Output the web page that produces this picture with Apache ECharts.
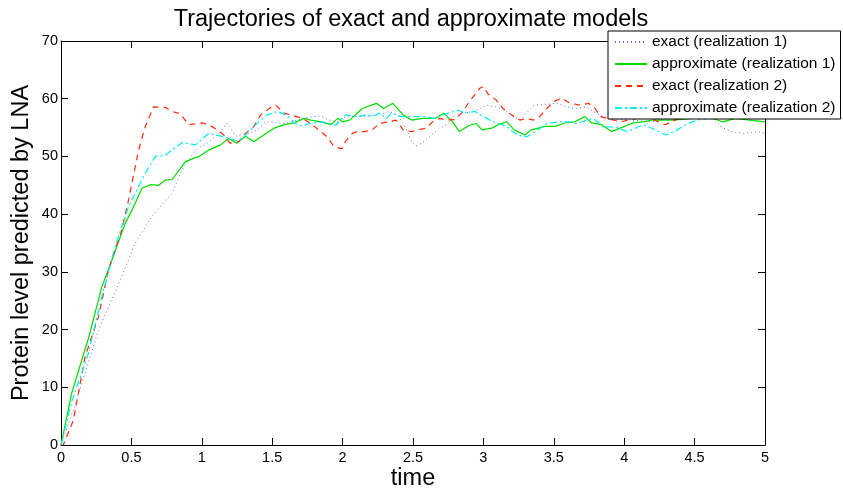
<!DOCTYPE html>
<html>
<head>
<meta charset="utf-8">
<script src="https://cdn.jsdelivr.net/npm/echarts@6/dist/echarts.min.js"></script>
<style>
html,body{margin:0;padding:0;background:#fff;}
#tuli{width:843px;height:488px;}
</style>
</head>
<body>
<div id="tuli"></div>
<script>
// exact (realization 1)
var exact1T = [0,0.089,0.266,0.432,0.527,0.646,0.789,0.86,0.955,1.05,1.12,1.18,1.24,1.288,1.335,1.395,1.454,1.5,1.573,1.645,1.715,1.787,1.846,1.905,1.965,2.02,2.167,2.25,2.33,2.39,2.45,2.49,2.52,2.56,2.594,2.64,2.69,2.737,2.785,2.856,2.93,2.98,3.02,3.09,3.165,3.215,3.26,3.307,3.355,3.426,3.52,3.59,3.66,3.73,3.78,3.85,3.95,4.05,4.2,4.4,4.55,4.64,4.68,4.76,4.85,4.95,5.0];
var exact1Y = [0,6.1,19.9,29.2,35,39.6,43.6,47.7,51.1,52.5,54,55.7,53.5,53.8,54,54.6,56,56,55.7,56,56.6,56.9,57,56.3,56,56.9,56.9,57.2,57.8,57.2,54.9,52.6,51.8,52.3,52.9,54,54.9,55.5,56.9,57.5,57.8,58.3,58.9,58.6,57.8,56.9,56.3,57.5,58.9,59,59.2,58.6,58.3,58.6,57.8,56.9,56.5,56.3,56,57,57.2,56.3,55.2,54.3,54,54.3,54];
// approximate (realization 1)
var approx1T = [0,0.076,0.195,0.29,0.361,0.456,0.527,0.575,0.634,0.694,0.741,0.789,0.884,0.979,1.05,1.133,1.19,1.25,1.31,1.37,1.44,1.513,1.585,1.656,1.727,1.775,1.846,1.917,1.965,2.0,2.05,2.14,2.24,2.29,2.357,2.43,2.49,2.57,2.66,2.72,2.78,2.83,2.9,2.95,2.99,3.06,3.105,3.165,3.22,3.295,3.34,3.44,3.51,3.58,3.65,3.72,3.77,3.84,3.91,3.98,4.06,4.13,4.2,4.34,4.48,4.6,4.7,4.79,4.89,5.0];
var approx1Y = [0,9,18.5,27.4,32,38.4,41.9,44.5,45.1,45,45.9,46,49.1,50,51.1,52,53.1,52.3,53.5,52.6,53.7,54.9,55.5,55.8,56.6,56.3,56,55.5,56.6,56,56.3,58.3,59.2,58.3,59.2,57.2,56.3,56.6,56.6,57.5,56,54.3,55.4,55.7,54.6,54.9,55.5,56,54.6,53.7,54.6,55.2,55.2,55.8,56,56.9,55.8,55.5,54.3,55,55.8,56,56.3,56.3,56.6,56.8,56,56.6,56.3,56];
// exact (realization 2)
var exact2T = [0,0.016,0.088,0.171,0.266,0.337,0.432,0.48,0.551,0.599,0.658,0.741,0.789,0.848,0.907,1.003,1.05,1.11,1.157,1.2,1.264,1.31,1.37,1.418,1.478,1.525,1.585,1.632,1.715,1.775,1.846,1.89,1.93,1.977,2.0,2.02,2.07,2.1,2.155,2.21,2.26,2.33,2.38,2.43,2.49,2.535,2.594,2.64,2.69,2.737,2.8,2.856,2.9,2.94,2.974,3.0,3.03,3.09,3.14,3.2,3.26,3.307,3.355,3.4,3.45,3.5,3.556,3.616,3.687,3.747,3.794,3.83,3.877,3.97,4.04,4.15,4.29,4.39,4.5,4.7,4.85,5.0];
var exact2Y = [0,0,4.3,15.3,22.2,30.3,37.3,42.5,51.1,55.2,58.6,58.5,57.8,57.4,55.5,55.8,55.5,54.6,53.7,52.3,52.6,54,55.2,57.2,58.3,58.9,57.5,57.2,56.6,55.7,54.3,53.4,52,51.4,51.4,52.6,54,54.3,54.3,54.6,55.7,56,56.3,54.6,54.3,54.6,54.9,56,56.6,56.3,56.4,57.8,59.5,60.7,61.8,62.1,60.9,59.8,58.3,57.2,56.3,56.6,56.3,56.9,58.3,59.5,60.1,59.2,58.9,59.2,58.3,56.9,56.6,56,56.3,57,55.5,56.6,58,58.5,57.5,57];
// approximate (realization 2)
var approx2T = [0,0.076,0.195,0.29,0.385,0.48,0.551,0.599,0.67,0.741,0.86,0.955,1.05,1.1,1.157,1.21,1.264,1.31,1.37,1.418,1.466,1.537,1.597,1.668,1.715,1.76,1.858,1.953,2.02,2.1,2.167,2.21,2.26,2.31,2.345,2.416,2.51,2.594,2.65,2.75,2.82,2.87,2.94,3.0,3.07,3.165,3.24,3.31,3.37,3.45,3.545,3.61,3.66,3.78,3.85,3.95,4.02,4.14,4.3,4.376,4.45,4.52,4.6,4.7,4.8,4.9,5.0];
var approx2Y = [0,7.5,15.9,25.7,34.4,41.3,44.8,47.1,50,50.2,52.4,52,54,53.7,53.4,53,52.6,53.7,55.2,56.3,57.2,57.8,57.2,55.7,55.2,55.7,56,55.4,57.2,56.9,57.2,56.9,57.5,56.6,57.5,56.9,56.9,56.9,56.6,57.5,58,57.5,57.8,56.9,56,55.2,53.7,53.4,54.3,55.7,56,56,55.7,56.6,55.2,55,54.3,55.5,53.7,54.6,55.7,56.3,56.6,57,57.3,57,57.5];

var xTicks = [0,0.5,1,1.5,2,2.5,3,3.5,4,4.5,5];
var yTicks = [0,10,20,30,40,50,60,70];
var names = ['exact (realization 1)','approximate (realization 1)','exact (realization 2)','approximate (realization 2)'];

function zip(t, y){
    var out = [];
    for(var i=0;i<t.length;i++){
        out.push([t[i], y[i]]);
    }
    return out;
}

var tuli = echarts.init(document.getElementById('tuli'));
var fam = 'Liberation Sans, Arial';
var axisTxt = {color:'#000', fontSize:14.5, fontFamily:fam};
var line = {onZero:false, lineStyle:{color:'#000', width:1}};
var tick = {inside:true, length:7, lineStyle:{color:'#000'}};

var option = {
    animation: false,
    backgroundColor: '#fff',
    title: {
        text: 'Trajectories of exact and approximate models',
        left: 406, top: 3, textAlign: 'center',
        textStyle: {fontSize:23.5, fontWeight:'normal', color:'#000', fontFamily:fam}
    },
    legend: {
        orient: 'vertical',
        left: 608, top: 31,
        backgroundColor: '#fff',
        borderColor: '#000', borderWidth: 1, borderRadius: 0,
        padding: [3, 5, 3, 6],
        itemWidth: 32, itemHeight: 10, itemGap: 6,
        itemStyle: {opacity: 0},
        textStyle: {fontSize:15.5, color:'#000', fontFamily:fam},
        data: names
    },
    grid: {left:61, top:41, width:704, height:404, containLabel:false, outerBoundsMode:'none'},
    xAxis: [{
        type: 'value', min: xTicks[0], max: xTicks[xTicks.length-1], interval: 0.5,
        axisLine: line, axisTick: tick,
        axisLabel: Object.assign({margin:5}, axisTxt),
        splitLine: {show:false},
        name: 'time', nameLocation: 'middle', nameGap: 22, nameMoveOverlap: false,
        nameTextStyle: {fontSize:23.5, color:'#000', fontFamily:fam}
    },{
        type: 'value', position: 'top', min: 0, max: 5, interval: 0.5,
        axisLine: line, axisTick: tick,
        axisLabel: {show:false}, splitLine: {show:false}
    }],
    yAxis: [{
        type: 'value', min: yTicks[0], max: yTicks[yTicks.length-1], interval: 10,
        axisLine: line, axisTick: tick,
        axisLabel: Object.assign({margin:3}, axisTxt),
        splitLine: {show:false},
        name: 'Protein level predicted by LNA', nameLocation: 'middle', nameGap: 27, nameMoveOverlap: false,
        nameTextStyle: {fontSize:23.5, color:'#000', fontFamily:fam}
    },{
        type: 'value', position: 'right', min: 0, max: 70, interval: 10,
        axisLine: line, axisTick: tick,
        axisLabel: {show:false}, splitLine: {show:false}
    }],
    series: [
        {name:names[0], type:'line', showSymbol:false, symbol:'none', data:zip(exact1T, exact1Y),
         lineStyle:{color:'#6a6aff', width:1, type:[1,3]}, itemStyle:{color:'#6a6aff'}},
        {name:names[1], type:'line', showSymbol:false, symbol:'none', data:zip(approx1T, approx1Y),
         lineStyle:{color:'#00dd00', width:1.2}, itemStyle:{color:'#00dd00'}},
        {name:names[2], type:'line', showSymbol:false, symbol:'none', data:zip(exact2T, exact2Y),
         lineStyle:{color:'#ff2a0a', width:1.2, type:[6,5]}, itemStyle:{color:'#ff2a0a'}},
        {name:names[3], type:'line', showSymbol:false, symbol:'none', data:zip(approx2T, approx2Y),
         lineStyle:{color:'#00eeee', width:1.2, type:[7,3,2,3]}, itemStyle:{color:'#00eeee'}}
    ]
};
tuli.setOption(option);
</script>
</body>
</html>
